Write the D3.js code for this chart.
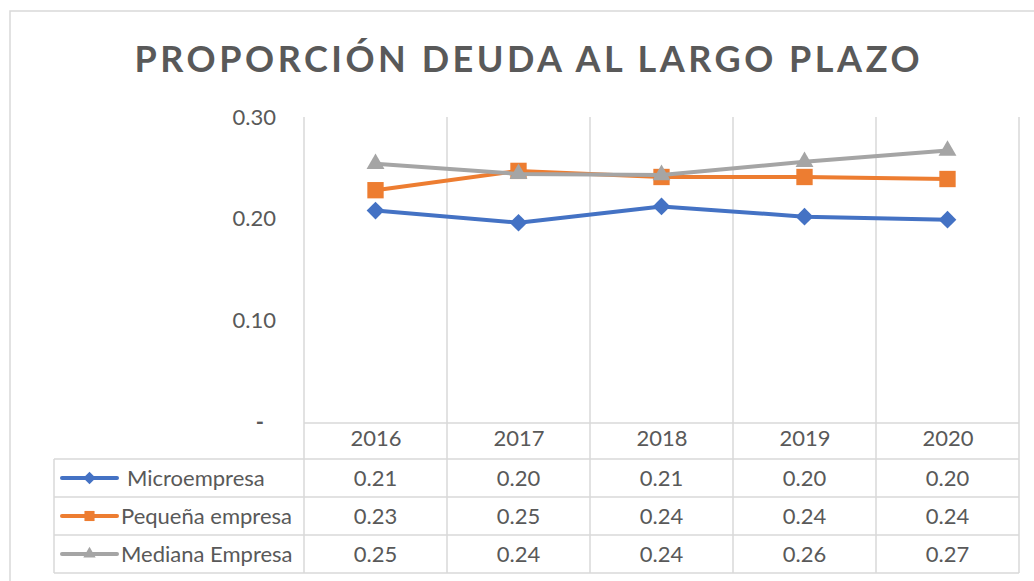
<!DOCTYPE html>
<html><head><meta charset="utf-8">
<script src="https://cdn.jsdelivr.net/npm/d3@7"></script>
<style>body{margin:0;background:#fff}svg{display:block}text{font-family:Lato,'Open Sans',sans-serif;fill:#595959}</style>
</head><body>
<svg id="c" width="1034" height="581"></svg>
<script>
const title = "PROPORCIÓN DEUDA AL LARGO PLAZO";
const years = ["2016","2017","2018","2019","2020"];
const seriesNames = ["Microempresa","Pequeña empresa","Mediana Empresa"];
const microValues = [0.208, 0.196, 0.212, 0.202, 0.199];
const pequenaValues = [0.228, 0.247, 0.241, 0.241, 0.239];
const medianaValues = [0.254, 0.244, 0.243, 0.256, 0.267];
const yTicks = [0, 0.1, 0.2, 0.3];
const colors = ["#4472C4", "#ED7D31", "#A5A5A5"];
const markers = [d3.symbolDiamond2, d3.symbolSquare2, d3.symbolTriangle2];
const markerSizes = [200, 340, 230];
const legendMarkerSizes = [100, 130, 110];

const series = seriesNames.map((n, i) => ({name: n, values: [microValues, pequenaValues, medianaValues][i], color: colors[i], marker: markers[i], size: markerSizes[i], lsize: legendMarkerSizes[i]}));

const svg = d3.select("#c");
const grid = "#D9D9D9";
const L = 304, R = 1019, T = 117, B = 422;
const rows = [459, 497, 535, 573];
const tableLeft = 54;
const fs = "22px";

svg.append("rect").attr("x", 10).attr("y", 11).attr("width", 1100).attr("height", 700)
  .attr("fill", "none").attr("stroke", grid).attr("stroke-width", 1.5);

const t = svg.append("text").attr("x", 527).attr("y", 72).attr("text-anchor", "middle")
  .style("font-size", "36px").style("font-weight", "700").text(title);
const tw = t.node().getComputedTextLength();
const ls = (785 - tw) / (title.length - 1);
t.style("letter-spacing", ls + "px").attr("x", 527 + ls / 2);

const xBand = d3.scaleBand().domain(years).range([L, R]);
const x = d3.scalePoint().domain(years).range([L, R]).padding(0.5);
const y = d3.scaleLinear().domain([0, 0.3]).range([B, T]);

const edges = years.map(d => xBand(d)).concat([R]);
svg.append("g").selectAll("line").data(edges).join("line")
  .attr("x1", d => d).attr("x2", d => d).attr("y1", T).attr("y2", rows[3])
  .attr("stroke", grid).attr("stroke-width", 1.5);
svg.append("line").attr("x1", L).attr("x2", R).attr("y1", 423).attr("y2", 423)
  .attr("stroke", grid).attr("stroke-width", 1.5);
svg.append("g").selectAll("line").data(rows).join("line")
  .attr("x1", tableLeft).attr("x2", R).attr("y1", d => d).attr("y2", d => d)
  .attr("stroke", grid).attr("stroke-width", 1.5);
svg.append("line").attr("x1", tableLeft).attr("x2", tableLeft).attr("y1", rows[0]).attr("y2", rows[3])
  .attr("stroke", grid).attr("stroke-width", 1.5);

const yAxis = d3.axisLeft(y).tickValues(yTicks).tickSize(0).tickPadding(28)
  .tickFormat(d => d === 0 ? "-" : d3.format(".2f")(d));
const ya = svg.append("g").attr("transform", `translate(${L},0)`).call(yAxis);
ya.select(".domain").remove();
ya.selectAll("text").style("font-size", fs).attr("fill", "#595959").style("font-family", "Lato");
ya.selectAll(".tick").filter(d => d === 0).select("text").attr("dx", "-12px").style("font-weight", "700");

const xa = d3.axisBottom(x).tickSize(0).tickPadding(7);
const xg = svg.append("g").attr("transform", `translate(0,423)`).call(xa);
xg.select(".domain").remove();
xg.selectAll("text").style("font-size", fs).attr("fill", "#595959").style("font-family", "Lato");

const line = d3.line().x((d, i) => x(years[i])).y(d => y(d));
series.forEach(s => {
  const g = svg.append("g");
  g.append("path").attr("d", line(s.values)).attr("fill", "none").attr("stroke", s.color)
    .attr("stroke-width", 4).attr("stroke-linejoin", "round");
  g.selectAll("path.m").data(s.values).join("path").attr("class", "m")
    .attr("transform", (d, i) => `translate(${x(years[i])},${y(d)})`)
    .attr("d", d3.symbol().type(s.marker).size(s.size)).attr("fill", s.color);
});

series.forEach((s, r) => {
  const cy = (rows[r] + rows[r + 1]) / 2;
  const g = svg.append("g");
  g.append("line").attr("x1", 62).attr("x2", 117).attr("y1", cy).attr("y2", cy)
    .attr("stroke", s.color).attr("stroke-width", 4).attr("stroke-linecap", "round");
  g.append("path").attr("transform", `translate(89.5,${cy})`)
    .attr("d", d3.symbol().type(s.marker).size(s.lsize)).attr("fill", s.color);
  g.append("text").attr("x", r === 0 ? 127 : 121).attr("y", cy).attr("dy", "0.35em")
    .style("font-size", fs).text(s.name);
  g.selectAll("text.v").data(s.values).join("text").attr("class", "v")
    .attr("x", (d, i) => x(years[i])).attr("y", cy).attr("dy", "0.35em").attr("text-anchor", "middle")
    .style("font-size", fs).text(d => d3.format(".2f")(d));
});
</script>
</body></html>
